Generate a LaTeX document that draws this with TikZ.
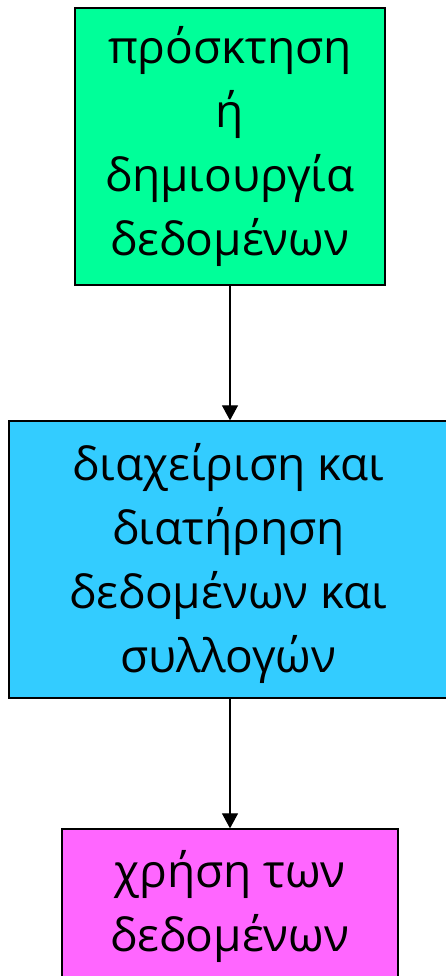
\documentclass[tikz,border=0pt]{standalone}
\usepackage{fontspec}
\setmainfont{Open Sans}
\usetikzlibrary{arrows.meta}
\definecolor{boxgreen}{HTML}{00FF99}
\definecolor{boxcyan}{HTML}{33CCFF}
\definecolor{boxpink}{HTML}{FF66FF}
\tikzset{
  labeltext/.style={font=\fontsize{46}{64}\selectfont, align=center},
  stagebox/.style={draw=black, line width=1.3pt, inner sep=0pt, labeltext},
  flow/.style={draw=black, line width=1.1pt, -{Triangle[length=15pt,width=16pt]}}
}
\begin{document}
\begin{tikzpicture}[x=1pt,y=-1pt]
\useasboundingbox (0,0) rectangle (446,976);
\node[stagebox, fill=boxgreen, minimum width=310pt, minimum height=277pt] (acq) at (230,146.5)
  {πρόσκτηση\\ή\\δημιουργία\\δεδομένων};
\node[stagebox, fill=boxcyan, minimum width=439pt, minimum height=277pt] (man) at (228.5,559.5)
  {};
\node[labeltext] (mantext) at (228.5,563)
  {διαχείριση και\\διατήρηση\\δεδομένων και\\συλλογών};
\node[stagebox, fill=boxpink, minimum width=336pt, minimum height=277pt] (use) at (230,967.5)
  {};
\node[labeltext, anchor=north] (usetext) at (230,847)
  {χρήση των\\δεδομένων};
\draw[flow] (acq.south) -- (acq.south |- man.north);
\draw[flow] (acq.south |- man.south) -- (acq.south |- use.north);
\end{tikzpicture}
\end{document}
